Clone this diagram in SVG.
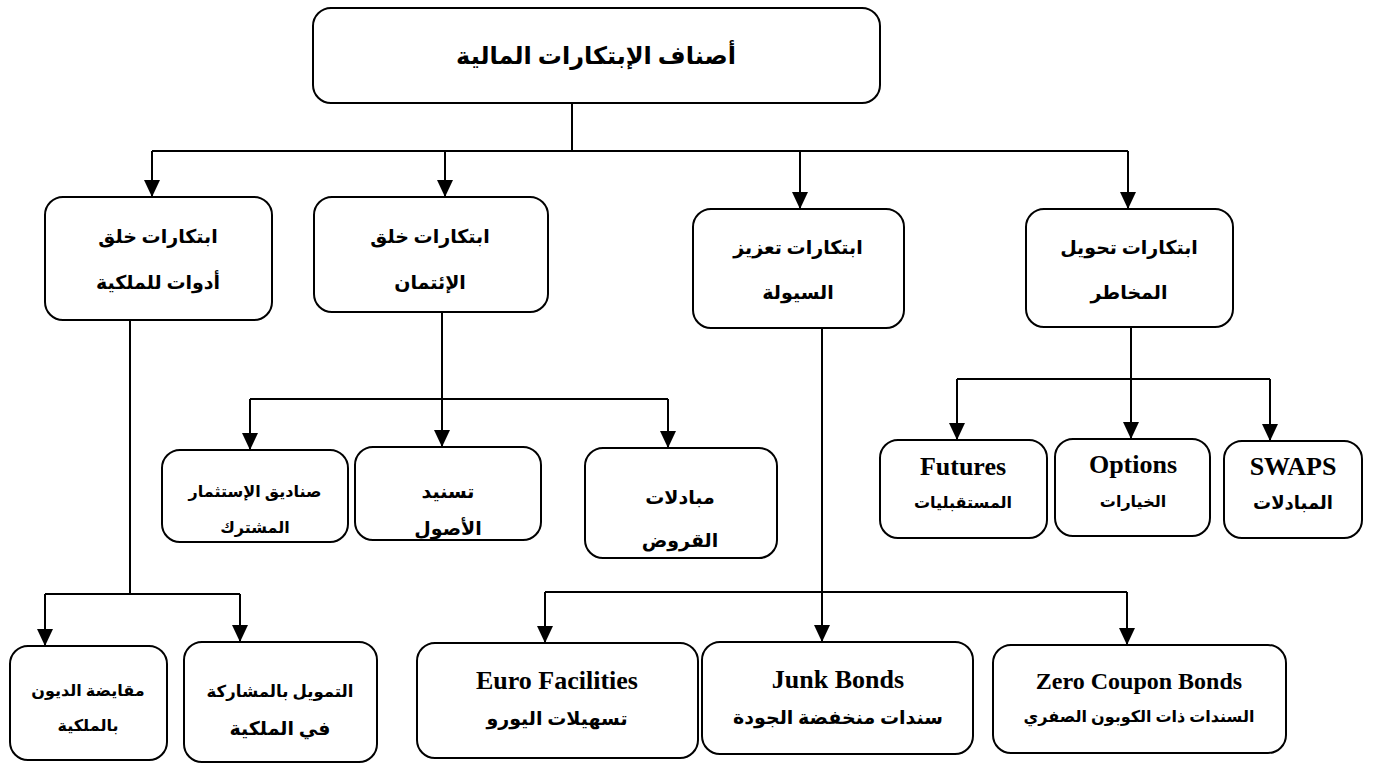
<svg xmlns="http://www.w3.org/2000/svg" width="1373" height="765" viewBox="0 0 1373 765">
<defs>
<marker id="ah" viewBox="0 0 17 16" refX="17" refY="8" markerWidth="17" markerHeight="16" markerUnits="userSpaceOnUse" orient="auto">
<path d="M0,0 L17,8 L0,16 Z" fill="#000"/>
</marker>
</defs>
<style>
.box{fill:#fff;stroke:#000;stroke-width:2}
.ln{fill:none;stroke:#000;stroke-width:2}
.ar{fill:none;stroke:#000;stroke-width:2}
text{font-family:"Liberation Serif","DejaVu Sans",serif;font-weight:bold;fill:#000;text-anchor:middle}
.t{font-size:24px}
.a{font-size:19px}
.s{font-size:16px}
.e{font-size:26px}
</style>
<rect width="1373" height="765" fill="#fff"/>
<g id="connectors">
<path class="ln" d="M572,103 V151 M152,151 H1128"/>
<path class="ln" d="M442,312 V399 M250,399 H668"/>
<path class="ln" d="M1131,327 V379 M957,379 H1270"/>
<path class="ln" d="M822,328 V592 M545,592 H1127"/>
<path class="ln" d="M130,320 V594 M45,594 H240"/>
<g>
<line class="ar" x1="152" y1="151" x2="152" y2="197" marker-end="url(#ah)"/>
<line class="ar" x1="445" y1="151" x2="445" y2="197" marker-end="url(#ah)"/>
<line class="ar" x1="800" y1="151" x2="800" y2="209" marker-end="url(#ah)"/>
<line class="ar" x1="1128" y1="151" x2="1128" y2="209" marker-end="url(#ah)"/>
<line class="ar" x1="250" y1="399" x2="250" y2="450" marker-end="url(#ah)"/>
<line class="ar" x1="442" y1="399" x2="442" y2="447" marker-end="url(#ah)"/>
<line class="ar" x1="668" y1="399" x2="668" y2="448" marker-end="url(#ah)"/>
<line class="ar" x1="957" y1="379" x2="957" y2="440" marker-end="url(#ah)"/>
<line class="ar" x1="1131" y1="379" x2="1131" y2="439" marker-end="url(#ah)"/>
<line class="ar" x1="1270" y1="379" x2="1270" y2="441" marker-end="url(#ah)"/>
<line class="ar" x1="545" y1="592" x2="545" y2="643" marker-end="url(#ah)"/>
<line class="ar" x1="822" y1="592" x2="822" y2="642" marker-end="url(#ah)"/>
<line class="ar" x1="1127" y1="592" x2="1127" y2="645" marker-end="url(#ah)"/>
<line class="ar" x1="45" y1="594" x2="45" y2="646" marker-end="url(#ah)"/>
<line class="ar" x1="240" y1="594" x2="240" y2="642" marker-end="url(#ah)"/>
</g>
</g>
<g id="root">
<rect class="box" x="313" y="8" width="567" height="95" rx="18"/>
<text class="t" x="596" y="64">أصناف الإبتكارات المالية</text>
</g>
<g id="n-ownership">
<rect class="box" x="45" y="197" width="227" height="123" rx="18"/>
<text class="a" x="158" y="243">ابتكارات خلق</text>
<text class="a" x="158" y="289">أدوات للملكية</text>
</g>
<g id="n-credit">
<rect class="box" x="314" y="197" width="234" height="115" rx="18"/>
<text class="a" x="430" y="243">ابتكارات خلق</text>
<text class="a" x="430" y="289">الإئتمان</text>
</g>
<g id="n-liquidity">
<rect class="box" x="693" y="209" width="211" height="119" rx="18"/>
<text class="a" x="798" y="254">ابتكارات تعزيز</text>
<text class="a" x="798" y="299">السيولة</text>
</g>
<g id="n-risk">
<rect class="box" x="1026" y="209" width="207" height="118" rx="18"/>
<text class="a" x="1129" y="254">ابتكارات تحويل</text>
<text class="a" x="1129" y="299">المخاطر</text>
</g>
<g id="n-funds">
<rect class="box" x="162" y="450" width="186" height="92" rx="18"/>
<text class="s" x="255" y="497">صناديق الإستثمار</text>
<text class="s" x="255" y="533">المشترك</text>
</g>
<g id="n-securitization">
<rect class="box" x="355" y="447" width="186" height="93" rx="18"/>
<text class="a" x="448" y="498">تسنيد</text>
<text class="a" x="448" y="535">الأصول</text>
</g>
<g id="n-loanswaps">
<rect class="box" x="585" y="448" width="192" height="110" rx="18"/>
<text class="a" x="680" y="504">مبادلات</text>
<text class="a" x="680" y="547">القروض</text>
</g>
<g id="n-futures">
<rect class="box" x="880" y="440" width="167" height="98" rx="18"/>
<text class="e" x="963" y="475">Futures</text>
<text class="s" x="963" y="508">المستقبليات</text>
</g>
<g id="n-options">
<rect class="box" x="1055" y="439" width="155" height="97" rx="18"/>
<text class="e" x="1133" y="473">Options</text>
<text class="s" x="1133" y="507">الخيارات</text>
</g>
<g id="n-swaps">
<rect class="box" x="1224" y="441" width="138" height="97" rx="18"/>
<text class="e" x="1293" y="475">SWAPS</text>
<text class="a" x="1293" y="509" style="font-size:18px">المبادلات</text>
</g>
<g id="n-debtequity">
<rect class="box" x="10" y="646" width="157" height="114" rx="18"/>
<text class="s" x="88" y="696">مقايضة الديون</text>
<text class="s" x="88" y="731">بالملكية</text>
</g>
<g id="n-participation">
<rect class="box" x="184" y="642" width="193" height="120" rx="18"/>
<text class="a" x="280" y="697" style="font-size:16.5px">التمويل بالمشاركة</text>
<text class="a" x="280" y="735">في الملكية</text>
</g>
<g id="n-euro">
<rect class="box" x="417" y="643" width="281" height="115" rx="18"/>
<text class="e" x="557" y="689">Euro Facilities</text>
<text class="a" x="557" y="725">تسهيلات اليورو</text>
</g>
<g id="n-junk">
<rect class="box" x="702" y="642" width="271" height="112" rx="18"/>
<text class="e" x="838" y="688">Junk Bonds</text>
<text class="a" x="838" y="724">سندات منخفضة الجودة</text>
</g>
<g id="n-zero">
<rect class="box" x="993" y="645" width="293" height="108" rx="18"/>
<text class="e" x="1139" y="689" style="font-size:24px">Zero Coupon Bonds</text>
<text class="s" x="1139" y="722">السندات ذات الكوبون الصفري</text>
</g>
</svg>
